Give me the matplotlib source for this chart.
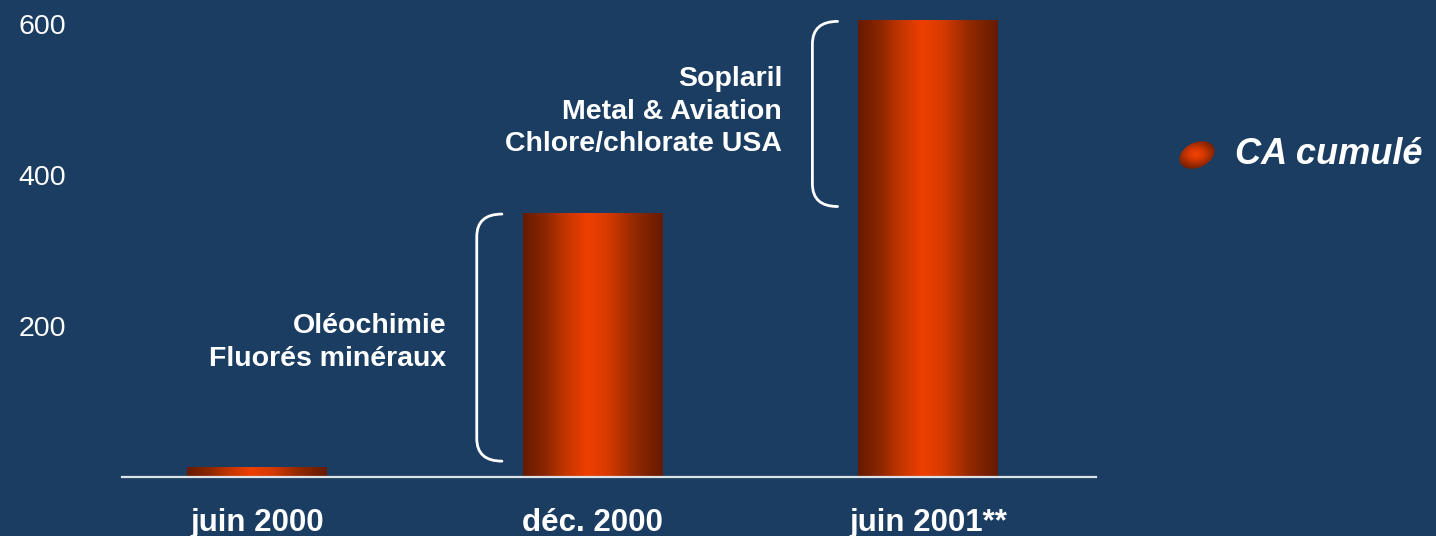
import numpy as np
import matplotlib.pyplot as plt
from matplotlib.colors import LinearSegmentedColormap
from matplotlib.patches import Ellipse, PathPatch
from matplotlib.path import Path

# données
periodes = ["juin 2000", "déc. 2000", "juin 2001**"]
ca_cumule = [13, 350, 605]
acquisitions = [None, "Oléochimie\nFluorés minéraux",
                "Soplaril\nMetal & Aviation\nChlore/chlorate USA"]
yticks = [200, 400, 600]
legende = "CA cumulé"

BG = "#1b3d62"
FG = "white"
plt.rcParams["font.family"] = ["Liberation Sans", "DejaVu Sans"]

bar_cmap = LinearSegmentedColormap.from_list(
    "bar", [(0.0, "#661a00"), (0.16, "#8c2700"), (0.3, "#c33500"),
            (0.46, "#ee3f00"), (0.6, "#d83b00"), (0.8, "#922900"),
            (1.0, "#661a00")])

fig = plt.figure(figsize=(14.36, 5.36), dpi=100, facecolor=BG)
ax = fig.add_axes([122 / 1436, 59 / 536, (1096 - 122) / 1436, 476 / 536])
ax.set_facecolor(BG)

x = np.arange(len(periodes))
width = 0.417
bars = ax.bar(x, ca_cumule, width=width, color="none", edgecolor="none")

grad = np.linspace(0, 1, 256).reshape(1, -1)
for b in bars:
    x0, w, h = b.get_x(), b.get_width(), b.get_height()
    im = ax.imshow(grad, extent=[x0, x0 + w, 0, h], aspect="auto",
                   cmap=bar_cmap, origin="lower", zorder=2)
    im.set_clip_path(b)

# accolades + textes (décalage vertical du texte, en unités de données)
decalage = [0, -6, 3]
for i in range(1, len(ca_cumule)):
    bot = ca_cumule[i - 1] + 8
    top = ca_cumule[i] - 2
    xl = x[i] - 0.345
    xr = xl + 0.075
    r = 30
    verts = [(xr, top), (xl, top), (xl, top - r), (xl, bot + r),
             (xl, bot), (xr, bot)]
    codes = [Path.MOVETO, Path.CURVE3, Path.CURVE3, Path.LINETO,
             Path.CURVE3, Path.CURVE3]
    ax.add_patch(PathPatch(Path(verts, codes), fc="none", ec=FG,
                           lw=2, capstyle="round", zorder=3))
    ax.text(x[i] - 0.435, (bot + top) / 2 + decalage[i], acquisitions[i],
            color=FG, fontsize=20.5, fontweight="bold", ha="right",
            va="center", multialignment="right", linespacing=1.34)

ax.set_xlim(-0.402, 2.50)
ax.set_ylim(0, 630)
ax.set_xticks(x)
ax.set_xticklabels(periodes, fontsize=22.5, fontweight="bold", color=FG)
ax.set_yticks(yticks)
ax.set_yticklabels([str(v) for v in yticks], fontsize=20.5, color=FG)
ax.tick_params(axis="both", length=0)
ax.tick_params(axis="y", pad=40)
ax.tick_params(axis="x", pad=22)
for s in ["top", "right", "left"]:
    ax.spines[s].set_visible(False)
ax.spines["bottom"].set_color("#dde2e8")
ax.spines["bottom"].set_linewidth(1.6)

# légende
lax = fig.add_axes([1176 / 1436, 1 - 173 / 536, 42 / 1436, 36 / 536])
lax.set_xlim(0, 42)
lax.set_ylim(0, 36)
lax.axis("off")
ell = Ellipse((21, 18), 37, 25, angle=25, fc="none", ec="none")
lax.add_patch(ell)
yy, xx = np.mgrid[0:36:100j, 0:42:100j]
rad = np.sqrt(((xx - 20) / 18) ** 2 + ((yy - 19) / 13) ** 2)
leg_cmap = LinearSegmentedColormap.from_list(
    "leg", ["#f24200", "#d63800", "#9a2a00", "#6a1c00"])
im = lax.imshow(rad, extent=[0, 42, 0, 36], origin="lower", cmap=leg_cmap,
                vmin=0, vmax=1.3, aspect="auto")
im.set_clip_path(ell)
fig.text(1235 / 1436, 1 - 155 / 536, legende, color=FG, fontsize=26,
         fontweight="bold", fontstyle="italic", ha="left", va="center")

fig.savefig("out.png", dpi=100, facecolor=BG)
